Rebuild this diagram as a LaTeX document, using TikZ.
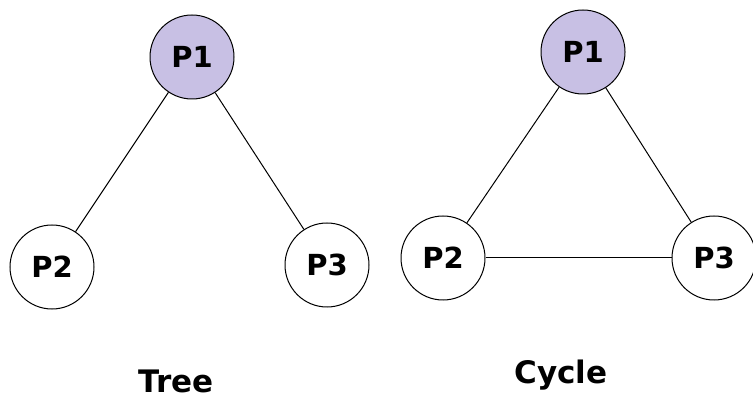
\documentclass[tikz,border=0pt]{standalone}
\usepackage{fontspec}
\setmainfont{DejaVu Sans}
\usepackage{tikz}
\usetikzlibrary{positioning}

\definecolor{rootfill}{RGB}{200,192,228}

\begin{document}
\begin{tikzpicture}[x=0.5pt,y=0.5pt,line width=0.5pt,
	proc/.style={circle,draw,inner sep=0pt,minimum size=42pt,font=\bfseries\fontsize{14.5}{16}\selectfont},
	root/.style={proc,fill=rootfill},
	caption/.style={font=\bfseries\fontsize{15.5}{18}\selectfont}]
	\useasboundingbox (0,0) rectangle (753,401);
	% tree
	\node[root] (t1) at (192,344) {P1};
	\node[proc] (t2) at (52,134) {P2};
	\node[proc] (t3) at (327,136) {P3};
	\node[caption] (tree) at (176,20) {Tree};
	% cycle
	\node[root] (c1) at (583,349) {P1};
	\node[proc] (c2) at (443,143) {P2};
	\node[proc] (c3) at (714,143) {P3};
	\node[caption] (cycle) at (561,26) {Cycle};
	\path[draw]
	(t1) edge (t2)
	edge (t3)
	(c1) edge (c2)
	edge (c3)
	(c2) edge (c3);
\end{tikzpicture}
\end{document}
